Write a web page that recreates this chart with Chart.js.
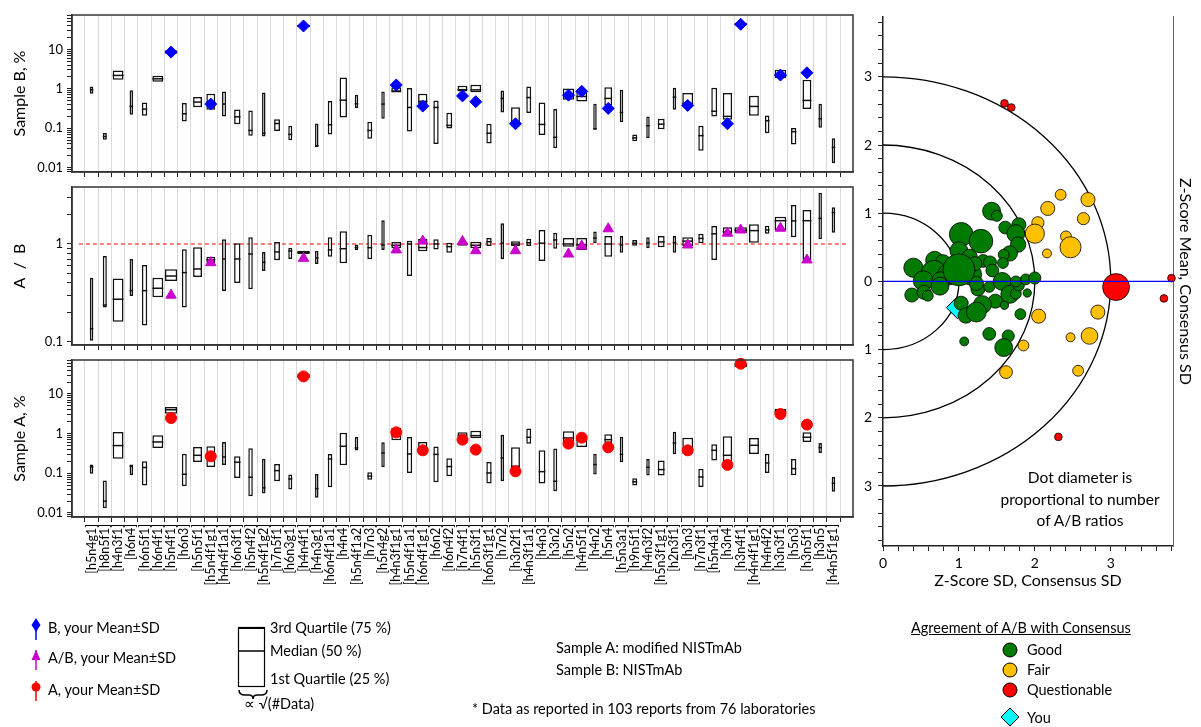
<!DOCTYPE html>
<html>
<head>
<meta charset="utf-8">
<script src="https://cdn.jsdelivr.net/npm/chart.js@4.4.1/dist/chart.umd.min.js"></script>
<style>
  body { margin: 0; background: #fff; width: 1201px; height: 727px; position: relative; overflow: hidden; font-family: Lato, sans-serif; color: #000; }
  canvas { position: absolute; }
  .t { position: absolute; white-space: nowrap; font-size: 14.5px; line-height: 16px; }
  svg { position: absolute; left: 0; top: 0; }
</style>
</head>
<body>
<canvas id="chartB" width="860" height="180" style="left:0;top:0"></canvas>
<canvas id="chartAB" width="860" height="173" style="left:0;top:180px"></canvas>
<canvas id="chartA" width="860" height="260" style="left:0;top:353px"></canvas>
<canvas id="chartZ" width="346" height="594" style="left:855px;top:0"></canvas>

<svg width="1201" height="727">
  <line x1="36" y1="620" x2="36" y2="640" stroke="#0000ff" stroke-width="1.5"/>
  <polygon points="36,618 40.5,625 36,632 31.5,625" fill="#0000ff"/>
  <line x1="36" y1="650" x2="36" y2="670" stroke="#cc00cc" stroke-width="1.5"/>
  <polygon points="36,650 40.5,660 31.5,660" fill="#cc00cc"/>
  <line x1="36" y1="681" x2="36" y2="701" stroke="#ff0000" stroke-width="1.5"/>
  <circle cx="36" cy="687" r="4.5" fill="#ff0000"/>
  <rect x="238.5" y="627.5" width="26" height="59" fill="none" stroke="#000" stroke-width="1.2"/>
  <line x1="238" y1="628" x2="265" y2="628" stroke="#000" stroke-width="2"/>
  <line x1="238" y1="651" x2="265" y2="651" stroke="#000" stroke-width="1.5"/>
  <path d="M239,690 q0,5 6,5 h4 q4,0 4,4 q0,-4 4,-4 h4 q6,0 6,-5" fill="none" stroke="#000" stroke-width="1.5"/>
  <circle cx="1010" cy="650" r="7" fill="#007a00" stroke="#000" stroke-width="1"/>
  <circle cx="1010" cy="670" r="7" fill="#ffc000" stroke="#000" stroke-width="1"/>
  <circle cx="1010" cy="690" r="7" fill="#ff0000" stroke="#000" stroke-width="1"/>
  <polygon points="1010,708 1019,717 1010,726 1001,717" fill="#00ffff" stroke="#000" stroke-width="1"/>
</svg>

<div class="t" style="left:48px;top:620px">B, your Mean±SD</div>
<div class="t" style="left:48px;top:650px">A/B, your Mean±SD</div>
<div class="t" style="left:48px;top:682px">A, your Mean±SD</div>
<div class="t" style="left:270px;top:620px">3rd Quartile (75 %)</div>
<div class="t" style="left:270px;top:643px">Median (50 %)</div>
<div class="t" style="left:270px;top:671px">1st Quartile (25 %)</div>
<div class="t" style="left:244px;top:696px">∝ √(#Data)</div>
<div class="t" style="left:556px;top:640px">Sample A: modified NISTmAb</div>
<div class="t" style="left:556px;top:662px">Sample B: NISTmAb</div>
<div class="t" style="left:472px;top:701px">* Data as reported in 103 reports from 76 laboratories</div>
<div class="t" style="left:911px;top:620px;text-decoration:underline">Agreement of A/B with Consensus</div>
<div class="t" style="left:1027px;top:642px">Good</div>
<div class="t" style="left:1027px;top:662px">Fair</div>
<div class="t" style="left:1027px;top:682px">Questionable</div>
<div class="t" style="left:1027px;top:710px">You</div>
<div class="t" style="left:980px;top:467px;width:200px;text-align:center;font-size:15.5px;line-height:21.5px;white-space:normal">Dot diameter is<br>proportional to number<br>of A/B ratios</div>

<script>
const categories = ["[h5n4g1]", "[h8n5f1]", "[h4n3f1]", "[h6n4]", "[h6n5f1]", "[h6n4f1]", "[h5n4f1]", "[h6n3]",
  "[h5n5f1]", "[h5n4f1g1]", "[h4n4f1a1]", "[h6n3f1]", "[h5n4f2]", "[h5n4f1g2]", "[h7n5f1]", "[h6n3g1]",
  "[h4n4f1]", "[h4n3g1]", "[h6n4f1a1]", "[h4n4]", "[h5n4f1a2]", "[h7n3]", "[h5n4g2]", "[h4n3f1g1]",
  "[h5n4f1a1]", "[h6n4f1g1]", "[h6n2]", "[h6n4f2]", "[h7n4f1]", "[h5n3f1]", "[h6n3f1g1]", "[h7n2]",
  "[h3n2f1]", "[h4n3f1a1]", "[h4n3]", "[h3n2]", "[h5n2]", "[h4n5f1]", "[h4n2]", "[h5n4]",
  "[h5n3a1]", "[h9n5f1]", "[h4n3f2]", "[h5n3f1g1]", "[h2n3f1]", "[h3n3]", "[h7n3f1]", "[h5n4a1]",
  "[h3n4]", "[h3n4f1]", "[h4n4f1g1]", "[h4n4f2]", "[h3n3f1]", "[h5n3]", "[h3n5f1]", "[h3n5]", "[h4n5f1g1]"];

// number of data per glycoform (box width is proportional to its square root)
const nData = [6, 8, 58, 6, 14, 58, 74, 12, 39, 39, 8, 20, 10, 6, 17, 8, 76, 6, 10, 27, 6, 12, 6, 48,
  14, 43, 14, 17, 48, 58, 14, 6, 39, 12, 23, 8, 63, 58, 6, 30, 6, 12, 6, 23, 6, 58, 14, 17, 43, 76,
  48, 10, 68, 14, 39, 6, 6];

// Sample B, %
const bQ1 = [0.75, 0.051, 1.69, 0.22, 0.207, 1.50, 7.7, 0.149, 0.343, 0.294, 0.2, 0.127, 0.065, 0.062, 0.085, 0.05,
  37, 0.033, 0.07, 0.188, 0.324, 0.054, 0.174, 0.81, 0.083, 0.41, 0.04, 0.099, 0.85, 0.82, 0.041, 0.25,
  0.111, 0.242, 0.068, 0.031, 0.527, 0.478, 0.092, 0.376, 0.143, 0.047, 0.056, 0.095, 0.294, 0.357, 0.027, 0.2,
  0.165, 40, 0.207, 0.075, 1.86, 0.039, 0.306, 0.103, 0.013];
const bMed = [0.94, 0.062, 2.18, 0.357, 0.306, 1.79, 8.5, 0.233, 0.46, 0.46, 0.41, 0.195, 0.088, 0.075, 0.132, 0.07,
  39, 0.036, 0.123, 0.516, 0.417, 0.088, 0.41, 0.88, 0.337, 0.48, 0.337, 0.118, 0.95, 0.94, 0.075, 0.57,
  0.135, 0.6, 0.125, 0.059, 0.665, 0.64, 0.097, 0.57, 0.25, 0.057, 0.116, 0.127, 0.615, 0.43, 0.065, 0.27,
  0.2, 43, 0.357, 0.155, 2.2, 0.082, 0.507, 0.174, 0.0327];
const bQ3 = [1.15, 0.0755, 2.91, 0.925, 0.45, 2.13, 9.5, 0.434, 0.615, 0.747, 0.856, 0.30, 0.283, 0.81, 0.17, 0.116,
  42, 0.132, 0.487, 1.94, 0.705, 0.146, 0.856, 1.1, 1.04, 0.747, 0.507, 0.247, 1.2, 1.26, 0.13, 0.907,
  0.343, 1.15, 0.45, 0.306, 1.02, 0.856, 0.417, 1.1, 0.94, 0.07, 0.2, 0.174, 1.06, 0.777, 0.116, 1.06,
  0.777, 47, 0.665, 0.211, 3.03, 0.101, 1.69, 0.417, 0.056];

// A / B
const abQ1 = [0.103, 0.224, 0.161, 0.295, 0.147, 0.286, 0.42, 0.224, 0.46, 0.635, 0.331, 0.40, 0.345, 0.53, 0.682, 0.703,
  0.79, 0.625, 0.743, 0.635, 0.87, 0.70, 0.87, 0.904, 0.471, 0.842, 0.88, 0.815, 0.96, 0.904, 0.953, 0.70,
  0.953, 0.953, 0.67, 0.895, 0.94, 0.87, 1.02, 0.743, 0.815, 0.96, 0.904, 0.925, 0.815, 0.953, 1.02, 0.687,
  1.24, 1.29, 1.03, 1.27, 1.39, 1.17, 0.687, 1.12, 1.30];
const abMed = [0.136, 0.238, 0.273, 0.334, 0.334, 0.353, 0.471, 0.51, 0.556, 0.69, 0.703, 0.703, 0.79, 0.65, 0.83, 0.85,
  0.82, 0.72, 0.87, 0.895, 0.92, 0.917, 0.977, 0.97, 1.0, 0.92, 1.0, 0.94, 1.0, 0.97, 1.055, 1.02,
  1.0, 1.03, 1.02, 1.1, 1.0, 0.98, 1.15, 1.0, 0.977, 1.02, 1.03, 1.05, 1.03, 1.07, 1.14, 1.27,
  1.33, 1.38, 1.37, 1.39, 1.73, 1.72, 1.73, 1.83, 2.09];
const abQ3 = [0.453, 0.755, 0.443, 0.703, 0.61, 0.453, 0.552, 0.883, 0.925, 0.743, 1.12, 1.02, 1.17, 0.83, 1.05, 0.917,
  0.855, 0.855, 1.17, 1.35, 0.99, 1.24, 1.75, 1.05, 1.08, 1.13, 1.12, 1.03, 1.05, 1.055, 1.15, 1.63,
  1.065, 1.13, 1.39, 1.3, 1.15, 1.15, 1.34, 1.21, 1.21, 1.1, 1.17, 1.21, 1.21, 1.17, 1.27, 1.53,
  1.48, 1.48, 1.59, 1.54, 1.9, 2.5, 2.22, 3.34, 2.37];

// Sample A, %
const aQ1 = [0.098, 0.0132, 0.234, 0.091, 0.049, 0.435, 3.19, 0.047, 0.193, 0.145, 0.163, 0.0764, 0.0264, 0.0308, 0.063, 0.039,
  25, 0.024, 0.0445, 0.16, 0.373, 0.069, 0.142, 0.68, 0.102, 0.296, 0.0594, 0.084, 0.734, 0.762, 0.055, 0.063,
  0.112, 0.56, 0.055, 0.0353, 0.582, 0.461, 0.093, 0.582, 0.19, 0.049, 0.0875, 0.0875, 0.3, 0.313, 0.0454, 0.209,
  0.166, 48, 0.307, 0.102, 3.01, 0.089, 0.617, 0.326, 0.034];
const aMed = [0.145, 0.0198, 0.5, 0.15, 0.14, 0.617, 4.0, 0.0945, 0.284, 0.27, 0.258, 0.19, 0.0794, 0.0428, 0.117, 0.072,
  27.8, 0.041, 0.23, 0.48, 0.435, 0.085, 0.326, 0.9, 0.307, 0.4, 0.3, 0.148, 0.9, 0.89, 0.102, 0.244,
  0.15, 0.81, 0.11, 0.063, 0.778, 0.7, 0.166, 0.706, 0.3, 0.061, 0.142, 0.124, 0.582, 0.395, 0.081, 0.38,
  0.284, 55, 0.508, 0.182, 3.6, 0.131, 0.81, 0.444, 0.056];
const aQ3 = [0.166, 0.0655, 1.1, 0.166, 0.2, 0.908, 4.7, 0.313, 0.461, 0.48, 0.617, 0.269, 0.427, 0.234, 0.172, 0.093,
  33, 0.0964, 0.307, 1.06, 0.824, 0.106, 0.605, 1.39, 0.824, 0.617, 0.471, 0.239, 1.08, 1.19, 0.193, 0.944,
  0.453, 1.34, 0.38, 0.419, 1.15, 0.89, 0.313, 0.962, 0.84, 0.075, 0.23, 0.209, 1.12, 0.79, 0.131, 0.538,
  0.857, 60, 0.778, 0.313, 4.26, 0.23, 1.08, 0.582, 0.081];

// your Mean for the glycoforms you reported
const meanIdx = [6, 9, 16, 23, 25, 28, 29, 32, 36, 37, 39, 45, 48, 49, 52, 54];
const meanB = [8.5, 0.41, 39, 1.25, 0.364, 0.66, 0.47, 0.13, 0.69, 0.86, 0.318, 0.378, 0.13, 43, 2.22, 2.54];
const meanAB = [0.30, 0.645, 0.714, 0.87, 1.07, 1.06, 0.855, 0.855, 0.79, 0.953, 1.43, 0.977, 1.29, 1.39, 1.45, 0.687];
const meanA = [2.48, 0.269, 27.8, 1.08, 0.38, 0.706, 0.395, 0.112, 0.56, 0.79, 0.453, 0.38, 0.163, 58, 3.13, 1.69];

// z-score plot: [SD z-score, mean z-score, number of A/B ratios]
const goodPts = [[1.43, 1.03, 28], [1.50, 0.96, 17], [1.61, 0.79, 20], [1.79, 0.83, 22], [1.75, 0.70, 28], [1.78, 0.54, 24],
  [1.67, 0.41, 24], [1.59, 0.39, 17], [1.58, 0.27, 17], [1.03, 0.69, 37], [1.29, 0.59, 37], [1.00, 0.45, 28],
  [1.14, 0.36, 24], [1.32, 0.30, 20], [1.41, 0.28, 20], [1.44, 0.16, 20], [0.97, 0.28, 17], [0.68, 0.31, 28],
  [0.79, 0.28, 24], [0.40, 0.20, 30], [0.67, 0.125, 39], [0.86, 0.10, 33], [0.53, 0.01, 31], [0.76, 0.01, 28],
  [0.75, -0.07, 28], [0.38, -0.20, 22], [0.54, -0.16, 22], [0.59, -0.21, 17], [1.16, 0.10, 33], [1.25, -0.11, 22],
  [1.40, -0.08, 17], [1.48, -0.29, 22], [1.31, -0.34, 28], [1.57, 0.00, 28], [1.67, -0.19, 28], [1.60, -0.35, 13],
  [1.75, -0.18, 17], [1.79, -0.06, 17], [1.88, 0.03, 17], [2.00, 0.05, 19], [1.90, -0.17, 13], [1.75, 0.00, 17],
  [1.03, -0.32, 22], [1.09, -0.50, 24], [1.23, -0.45, 31], [1.81, -0.48, 17], [1.40, -0.77, 20], [1.65, -0.80, 19],
  [1.59, -0.97, 28], [1.07, -0.88, 14], [1.21, 0.26, 22], [1.23, -0.03, 22], [1.00, 0.17, 50]];
const fairPts = [[2.34, 1.27, 17], [2.70, 1.20, 22], [2.17, 1.07, 22], [2.64, 0.92, 19], [2.04, 0.86, 19], [2.00, 0.70, 30],
  [2.41, 0.66, 17], [2.47, 0.50, 33], [2.16, 0.41, 14], [2.05, -0.51, 22], [2.83, -0.45, 22], [2.47, -0.82, 14],
  [2.72, -0.80, 26], [1.85, -0.94, 17], [1.62, -1.33, 20], [2.57, -1.31, 17]];
const questPts = [[1.60, 2.61, 12], [1.69, 2.55, 12], [3.07, -0.083, 42], [3.80, 0.047, 12], [3.70, -0.25, 12], [2.31, -2.28, 12]];
const youPt = [0.98, -0.385];
const rings = [1, 2, 3];

const FONT = "Lato";
const boxUnits = (n) => 0.1075 * Math.sqrt(n);
const dotRadius = (n) => 0.32 * n;

function pxPerUnit(chart) {
  const x = chart.scales.x;
  return x.getPixelForValue(1) - x.getPixelForValue(0);
}

function logTicks(min, max) {
  const ticks = [];
  for (let e = -3; e <= 2; e++) {
    for (let m = 1; m <= 9; m++) {
      const v = Number((m * Math.pow(10, e)).toPrecision(2));
      if (v >= min && v <= max) ticks.push({ value: v });
    }
  }
  return ticks;
}

// box width follows √(#Data)
const boxWidthPlugin = {
  id: "boxWidth",
  afterDatasetsUpdate(chart) {
    const unit = pxPerUnit(chart);
    chart.getDatasetMeta(0).data.forEach((bar, i) => {
      bar.width = boxUnits(nData[i]) * unit;
    });
  }
};

const framePlugin = {
  id: "frame",
  afterDraw(chart) {
    const { ctx, chartArea: a } = chart;
    ctx.save();
    ctx.strokeStyle = "#333";
    ctx.lineWidth = 1.5;
    ctx.strokeRect(a.left, a.top, a.right - a.left, a.bottom - a.top);
    ctx.restore();
  }
};

function makePanel(id, p) {
  const datasets = [
    {
      type: "bar",
      data: categories.map((c, i) => ({ x: i, y: [p.q1[i], p.q3[i]] })),
      backgroundColor: "rgba(255,255,255,0.7)",
      borderColor: "#111",
      borderWidth: 1.5,
      borderSkipped: false,
      order: 3
    },
    {
      type: "scatter",
      data: categories.map((c, i) => ({ x: i, y: p.med[i] })),
      pointStyle: "line",
      pointRadius: (ctx) => boxUnits(nData[ctx.dataIndex]) * pxPerUnit(ctx.chart) / 2,
      borderColor: "#111",
      borderWidth: 1.5,
      order: 2
    },
    {
      type: "scatter",
      data: meanIdx.map((c, k) => ({ x: c, y: p.mean[k] })),
      pointStyle: p.markStyle,
      pointRadius: p.markSize,
      backgroundColor: p.markColor,
      borderColor: p.markColor,
      borderWidth: 1,
      clip: false,
      order: 1
    }
  ];
  if (p.refLine) {
    datasets.push({
      type: "line",
      data: [{ x: -0.96, y: 1 }, { x: 56.96, y: 1 }],
      borderColor: "#ff0000",
      borderWidth: 1.2,
      borderDash: [4, 3],
      pointRadius: 0,
      order: 4
    });
  }

  return new Chart(document.getElementById(id), {
    type: "bar",
    data: { datasets },
    plugins: [boxWidthPlugin, framePlugin],
    options: {
      responsive: false,
      animation: false,
      events: [],
      layout: { padding: { top: p.padTop, right: 7, left: 0, bottom: 0 } },
      plugins: { legend: { display: false }, tooltip: { enabled: false } },
      scales: {
        x: {
          type: "linear",
          min: -0.96,
          max: 56.96,
          afterBuildTicks: (s) => { s.ticks = categories.map((c, i) => ({ value: i })); },
          grid: { color: "#d9d9d9", lineWidth: 1, tickColor: "#222", tickLength: 5 },
          border: { color: "#333", width: 1.5 },
          ticks: {
            display: p.showX,
            autoSkip: false,
            minRotation: 90,
            maxRotation: 90,
            padding: 2,
            color: "#000",
            font: { family: FONT, size: 12.5 },
            callback: (v) => categories[v]
          },
          afterFit: (s) => { s.height = p.xHeight; s.paddingLeft = 0; s.paddingRight = 0; }
        },
        y: {
          type: "logarithmic",
          min: p.yMin,
          max: p.yMax,
          afterBuildTicks: (s) => { s.ticks = logTicks(p.yMin, p.yMax); },
          grid: { drawOnChartArea: false, tickColor: "#222", tickLength: 5 },
          border: { color: "#333", width: 1.5 },
          ticks: {
            autoSkip: false,
            padding: 4,
            color: "#000",
            font: { family: FONT, size: 13 },
            callback: (v) => (p.yLabels.includes(v) ? String(v) : "")
          },
          title: { display: true, text: p.yTitle, color: "#000", font: { family: FONT, size: 16 }, padding: { top: 10, bottom: 0 } },
          afterFit: (s) => { s.width = 72; s.paddingTop = 0; s.paddingBottom = 0; }
        }
      }
    }
  });
}

makePanel("chartB", {
  q1: bQ1, med: bMed, q3: bQ3, mean: meanB,
  markStyle: "rectRot", markSize: 6, markColor: "#0000ff",
  yMin: 0.0078, yMax: 74, yLabels: [0.01, 0.1, 1, 10], yTitle: "Sample B, %",
  padTop: 15, xHeight: 8, showX: false
});
makePanel("chartAB", {
  q1: abQ1, med: abMed, q3: abQ3, mean: meanAB,
  markStyle: "triangle", markSize: 6, markColor: "#cc00cc",
  yMin: 0.093, yMax: 3.82, yLabels: [0.1, 1], yTitle: "A  /  B",
  padTop: 7, xHeight: 8, showX: false, refLine: true
});
makePanel("chartA", {
  q1: aQ1, med: aMed, q3: aQ3, mean: meanA,
  markStyle: "circle", markSize: 5.5, markColor: "#ff0000",
  yMin: 0.0079, yMax: 72, yLabels: [0.01, 0.1, 1, 10], yTitle: "Sample A, %",
  padTop: 7, xHeight: 96, showX: true
});

// ---- z-score panel ----
const ringsPlugin = {
  id: "rings",
  beforeDatasetsDraw(chart) {
    const { ctx, scales: { x, y } } = chart;
    const cx = x.getPixelForValue(0);
    const cy = y.getPixelForValue(0);
    ctx.save();
    ctx.strokeStyle = "#000";
    ctx.lineWidth = 1.3;
    ctx.beginPath();
    rings.forEach((r) => {
      const rx = x.getPixelForValue(r) - cx;
      const ry = cy - y.getPixelForValue(r);
      ctx.moveTo(cx, cy - ry);
      ctx.ellipse(cx, cy, rx, ry, 0, -Math.PI / 2, Math.PI / 2);
    });
    ctx.stroke();
    ctx.restore();
  }
};

function bubbleSet(pts, color) {
  return {
    type: "scatter",
    data: pts.map((p) => ({ x: p[0], y: p[1] })),
    pointRadius: (ctx) => dotRadius(pts[ctx.dataIndex][2]),
    backgroundColor: color,
    borderColor: "#000",
    borderWidth: 0.8,
    clip: false
  };
}

const zTicks = (a, b) => {
  const t = [];
  for (let k = Math.round(a * 5); k <= Math.round(b * 5); k++) t.push({ value: k / 5 });
  return t;
};

new Chart(document.getElementById("chartZ"), {
  type: "scatter",
  data: {
    datasets: [
      { type: "line", data: [{ x: 0, y: 0 }, { x: 3.82, y: 0 }], borderColor: "#0000ff", borderWidth: 1.3, pointRadius: 0 },
      bubbleSet(goodPts, "#007a00"),
      bubbleSet(fairPts, "#ffc000"),
      bubbleSet(questPts, "#ff0000"),
      {
        type: "scatter",
        data: [{ x: youPt[0], y: youPt[1] }],
        pointStyle: "rectRot",
        pointRadius: 11,
        backgroundColor: "#00ffff",
        borderColor: "#000",
        borderWidth: 1,
        clip: false
      }
    ]
  },
  plugins: [ringsPlugin],
  options: {
    responsive: false,
    animation: false,
    events: [],
    layout: { padding: { top: 14, left: 0, right: 0, bottom: 0 } },
    plugins: { legend: { display: false }, tooltip: { enabled: false } },
    scales: {
      x: {
        type: "linear",
        min: 0,
        max: 3.82,
        afterBuildTicks: (s) => { s.ticks = zTicks(0, 3.8); },
        grid: { drawOnChartArea: false, tickColor: "#222", tickLength: 5 },
        border: { color: "#222", width: 1.5 },
        ticks: {
          autoSkip: false,
          maxRotation: 0,
          padding: 4,
          color: "#000",
          font: { family: FONT, size: 14 },
          callback: (v) => (Math.abs(v - Math.round(v)) < 1e-6 ? String(Math.round(v)) : "")
        },
        title: { display: true, text: "Z-Score SD, Consensus SD", color: "#000", font: { family: FONT, size: 16 }, padding: { top: 0, bottom: 4 } },
        afterFit: (s) => { s.height = 48; s.paddingLeft = 0; s.paddingRight = 0; }
      },
      y: {
        type: "linear",
        min: -3.88,
        max: 3.88,
        afterBuildTicks: (s) => { s.ticks = zTicks(-3.8, 3.8); },
        grid: { drawOnChartArea: false, tickColor: "#222", tickLength: 5 },
        border: { color: "#222", width: 1.5 },
        ticks: {
          autoSkip: false,
          padding: 6,
          color: "#000",
          font: { family: FONT, size: 14 },
          callback: (v) => (Math.abs(v - Math.round(v)) < 1e-6 ? String(Math.abs(Math.round(v))) : "")
        },
        afterFit: (s) => { s.width = 28; s.paddingTop = 0; s.paddingBottom = 0; }
      },
      y2: {
        type: "linear",
        position: "right",
        min: 0,
        max: 1,
        ticks: { display: false },
        grid: { display: false },
        border: { display: true, color: "#666", width: 1 },
        title: { display: true, text: "Z-Score Mean, Consensus SD", color: "#000", font: { family: FONT, size: 16 }, padding: { top: 6, bottom: 0 } },
        afterFit: (s) => { s.width = 28; s.paddingTop = 0; s.paddingBottom = 0; }
      }
    }
  }
});
</script>
</body>
</html>
